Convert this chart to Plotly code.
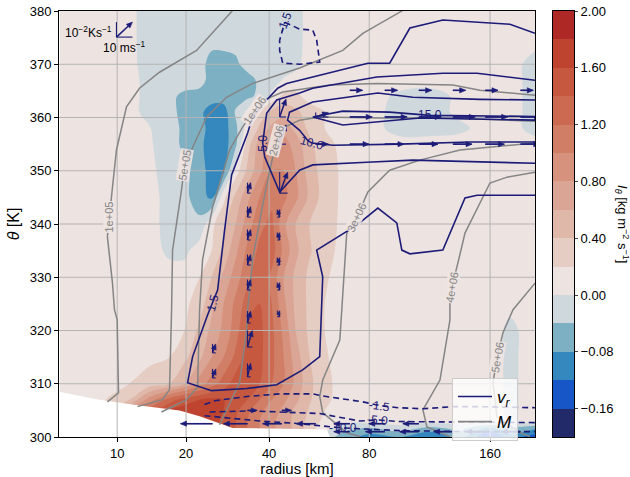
import numpy as np
import plotly.graph_objects as go

# ---------------- data ----------------
# radial grid [km] and potential-temperature grid [K] of the I_theta field
r_grid = [5, 8.2, 11.4, 14.1, 17.1, 19.7, 22.6, 25.1, 27.8, 30.7, 33.8, 37.2, 40.8,
          44.6, 48.7, 53.8, 59.7, 68.3, 80.2, 96.6, 115.2, 136.2, 159.9, 177.3, 201]
theta_grid = [380, 375, 370, 367, 364, 361, 358, 355, 350, 345, 340, 335, 330, 325,
              320, 315, 310, 307, 305, 303, 301.5, 300]
# I_theta [kg m-2 s-1], rows follow theta_grid, columns follow r_grid
I_theta = [
 [0.1,0.1,0.1,-0.035,-0.02,-0.02,-0.02,-0.02,-0.02,-0.02,-0.02,-0.02,-0.02,-0.02,-0.02,0.1,0.1,0.1,0.1,0.1,0.1,0.1,0.1,0.1,0.1],
 [0.1,0.1,0.1,-0.035,-0.02,-0.02,-0.02,-0.02,-0.02,-0.02,-0.02,-0.02,-0.02,-0.02,-0.02,0.1,0.1,0.1,0.1,0.1,0.1,0.1,0.1,0.1,0.1],
 [0.1,0.1,0.1,-0.03,-0.02,-0.02,-0.02,-0.06,-0.06,-0.05,-0.02,-0.02,-0.02,-0.02,-0.01,0.1,0.1,0.1,0.1,0.1,0.1,0.1,0.1,0.1,-0.02],
 [0.1,0.1,0.1,-0.02,-0.02,-0.02,-0.02,-0.06,-0.06,-0.06,-0.06,-0.03,-0.02,0.02,0.08,0.1,0.1,0.1,0.1,0.1,0.1,0.1,0.1,0.1,-0.02],
 [0.1,0.1,0.1,-0.02,-0.03,-0.05,-0.06,-0.06,-0.06,-0.06,-0.05,-0.03,0.05,0.25,0.25,0.12,0.1,0.1,0.1,-0.01,-0.02,0.05,0.1,0.1,-0.02],
 [0.1,0.1,0.1,-0.02,-0.02,-0.06,-0.07,-0.1,-0.1,-0.035,0.05,0.25,0.45,0.55,0.45,0.3,0.2,0.12,0.1,-0.02,-0.02,0.05,0.1,0.1,-0.02],
 [0.1,0.1,0.1,0.01,-0.02,-0.05,-0.06,-0.1,-0.1,-0.05,0.1,0.45,0.65,0.7,0.55,0.35,0.2,0.12,0.1,-0.02,-0.02,-0.01,0.1,0.1,-0.02],
 [0.1,0.1,0.1,0.02,-0.02,-0.05,-0.07,-0.1,-0.1,-0.05,0.3,0.7,0.9,0.9,0.7,0.45,0.25,0.15,0.1,0.1,0.1,0.1,0.1,0.1,0.1],
 [0.1,0.1,0.1,0.05,-0.02,-0.03,-0.06,-0.1,-0.09,0.1,0.45,0.75,1.0,1.0,0.8,0.5,0.3,0.15,0.1,0.1,0.1,0.1,0.1,0.1,0.1],
 [0.1,0.1,0.1,0.1,-0.02,-0.03,-0.06,-0.09,0.15,0.45,0.75,1.0,1.15,1.05,0.85,0.55,0.3,0.15,0.1,0.1,0.1,0.1,0.1,0.1,0.1],
 [0.1,0.1,0.1,0.1,-0.02,-0.03,-0.03,0.15,0.35,0.6,0.9,1.15,1.25,0.85,0.6,0.4,0.28,0.15,0.1,0.1,0.1,0.1,0.1,0.1,0.1],
 [0.1,0.1,0.1,0.1,-0.01,-0.01,0.1,0.2,0.45,0.75,1.05,1.25,1.3,0.95,0.65,0.42,0.26,0.14,0.1,0.1,0.1,0.1,0.1,0.1,0.1],
 [0.1,0.1,0.1,0.1,0.1,0.1,0.2,0.4,0.65,0.9,1.15,1.35,1.15,0.8,0.55,0.35,0.22,0.13,0.1,0.1,0.1,0.1,0.1,0.1,0.1],
 [0.1,0.1,0.1,0.1,0.1,0.15,0.3,0.55,0.8,1.05,1.3,1.4,1.2,0.85,0.55,0.35,0.2,0.12,0.1,0.1,0.1,0.1,0.1,0.05,0.1],
 [0.1,0.1,0.1,0.1,0.12,0.2,0.45,0.65,0.85,1.1,1.45,1.45,1.25,0.95,0.6,0.35,0.2,0.12,0.1,0.1,0.1,0.1,0.1,-0.01,0.1],
 [0.1,0.1,0.12,0.15,0.2,0.35,0.55,0.8,1.0,1.25,1.5,1.45,1.25,1.0,0.7,0.4,0.22,0.12,0.1,0.1,0.1,0.1,0.1,-0.01,0.1],
 [0.1,0.12,0.2,0.3,0.4,0.6,0.9,1.1,1.3,1.5,1.55,1.4,1.2,1.0,0.75,0.45,0.25,0.12,0.1,0.1,0.1,0.1,0.1,-0.01,0.1],
 [0.1,0.15,0.4,0.9,1.3,1.5,1.6,1.65,1.6,1.55,1.4,1.2,1.0,0.85,0.65,0.42,0.24,0.12,0.1,0.1,0.1,0.1,0.1,-0.01,0.1],
 [0.1,0.2,0.8,1.3,1.6,1.7,1.75,1.7,1.6,1.45,1.25,1.05,0.9,0.75,0.55,0.38,0.2,0.1,0.1,0.1,0.1,0.1,0.1,-0.01,0.1],
 [0.1,0.3,1.0,1.5,1.7,1.75,1.75,1.7,1.55,1.4,1.2,1.0,0.85,0.7,0.55,0.32,0.15,0.05,0.1,0.1,0.1,0.1,0.1,-0.01,0.1],
 [0.1,0.3,1.0,1.5,1.7,1.75,1.75,1.7,1.55,1.4,1.2,1.0,0.85,0.7,0.55,0.3,0.05,-0.03,-0.05,-0.02,-0.06,-0.03,-0.1,-0.05,-0.08],
 [0.1,0.3,1.0,1.5,1.7,1.75,1.75,1.7,1.55,1.4,1.2,1.0,0.85,0.7,0.55,0.3,-0.02,-0.06,-0.1,-0.08,-0.12,-0.06,-0.17,-0.1,-0.14],
]
# colour levels of I_theta
levels = [-0.20, -0.16, -0.12, -0.08, -0.04, 0.00, 0.20, 0.40, 0.60, 0.80,
          1.00, 1.20, 1.40, 1.60, 1.80, 2.00]
level_colors = ['#222a6a', '#1656c6', '#3488bd', '#7eb0c3', '#cfd8dd', '#ede3e1',
                '#e6cdc4', '#dfb8aa', '#daa594', '#d6927c', '#d17e66', '#cc6a51',
                '#c6583f', '#be4430', '#ae2826']

# lower boundary (surface) of the data
surface_r = [4.9, 8.17, 12.7, 18.83, 22.6, 29.96, 60.55, 61.8]
surface_theta = [308.5, 307.0, 305.9, 305.0, 303.9, 301.7, 301.4, 300.1]

# absolute angular momentum M contours [m2 s-1]
M_contours = {
    '1e+05': ([29.96, 22.0, 15.54, 12.7, 11.07, 9.92, 9.49, 9.17, 8.96, 9.49, 9.70, 10.0, 10.15, 8.96],
              [380.1, 372.6, 368.5, 365.5, 362.0, 353.9, 346.9, 341.3, 337.6, 328.9, 323.9, 322.0, 308.3, 306.6]),
    '5e+05': ([98.3, 76.8, 67.4, 50.1, 35.2, 28.5, 24.04, 21.23, 19.73, 19.18, 17.63, 17.47, 17.13, 16.0, 12.44],
              [380.1, 375.8, 372.6, 369.3, 366.4, 363.8, 360.1, 354.4, 351.1, 346.4, 335.1, 323.9, 308.9, 307.0, 305.7]),
    '1e+06': ([201, 151.7, 131, 83.9, 61.8, 44.3, 38.66, 35.78, 32.5, 29.23, 25.32, 23.2, 22.6, 22.2, 20.09, 15.85],
              [364.2, 365.1, 366.1, 366.4, 366.1, 364.8, 363.3, 361.4, 358.2, 353.9, 343.2, 333.3, 323.9, 309.4, 307.0, 304.7]),
    '2e+06': ([201, 128.9, 85.5, 57.7, 50.1, 44.3, 42.36, 40.2, 37.78, 35.2, 33.84, 33.57, 31.72, 28.51, 26.87],
              [359.3, 359.9, 359.9, 360.1, 359.5, 358.0, 355.7, 350.1, 342.6, 333.3, 323.9, 320.1, 310.2, 305.1, 302.3]),
    '3e+06': ([201, 151.7, 136.2, 108.6, 90.8, 79.3, 73.9, 69.2, 66.95, 66.1, 58.9, 57.7, 58.9, 69.2, 75.3],
              [355.2, 354.3, 353.9, 352.0, 350.1, 346.0, 341.3, 338.3, 323.9, 318.2, 310.7, 307.6, 304.6, 300.8, 300.1]),
    '4e+06': ([201, 174.7, 159.9, 151.7, 140.0, 134.7, 130.3, 128.9, 128.9, 121.9, 110.6, 113.2, 128.9],
              [349.7, 348.8, 347.7, 343.9, 338.3, 332.7, 328.2, 325.7, 322.0, 310.7, 305.1, 301.9, 300.1]),
    '5e+06': ([201, 180.1, 171.1, 165.9, 162.5, 165.9, 186.6, 196.1],
              [328.9, 323.9, 319.6, 314.9, 310.2, 303.8, 300.8, 300.1]),
}
# index of the contour point that carries the label, and label angle
M_label_at = {'1e+05': (7, -90), '5e+05': (8, -80), '1e+06': (7, -55), '2e+06': (6, -75),
              '3e+06': (6, -65), '4e+06': (6, -80), '5e+06': (3, -80)}

# radial velocity v_r contours [m s-1]: label, radius, theta, label index, label angle
vr_contours = [
    ('1.5', [201, 149.4, 140.0, 123.9, 102.5, 97.7, 94.8, 84.4, 73.9, 56.5, 58.9, 58.5, 57.7, 51.2, 42.36,
             33.57, 25.1, 20.28, 21.23, 24.24, 25.32, 26.43, 28.04, 29.72, 33.84, 35.2, 39.25, 42.67, 45.6,
             54.6, 79.3, 90.8, 102.5, 123.9, 177.3, 201],
     [345.4, 345.4, 344.9, 335.1, 334.4, 335.1, 340.2, 343.0, 339.8, 335.1, 330.1, 325.7, 315.1, 312.6, 309.8,
      309.1, 308.7, 310.2, 315.1, 322.9, 325.2, 327.6, 338.9, 349.2, 357.1, 360.1, 363.3, 365.5, 366.4,
      367.6, 370.2, 370.2, 376.8, 378.3, 377.5, 375.8], 20, -75),
    ('5.0', [201, 104.3, 78.8, 54.97, 50.1, 43.3, 38.66, 38.07, 39.25, 42.36, 50.1, 54.97, 83.9, 123.9, 149.4, 201],
     [351.4, 352.0, 351.6, 351.1, 350.1, 346.0, 352.6, 355.2, 360.8, 363.3, 364.6, 365.5, 367.6, 368.3, 368.3, 367.0], 7, -90),
    ('10.0', [201, 151.7, 104.3, 84.4, 54.97, 46.6, 45.9, 50.1, 53.06, 54.6, 63.1, 96.6, 143.8, 201],
     [363.3, 363.4, 363.8, 364.6, 362.9, 361.0, 359.5, 357.6, 355.7, 355.2, 354.8, 355.0, 355.4, 355.4], 9, 15),
    ('15.0', [54.97, 67.4, 90.8, 115.2, 201, 201, 108.6, 67.4, 54.97],
     [360.1, 361.2, 361.0, 360.4, 360.2, 359.5, 359.9, 358.6, 360.1], 3, 0),
    ('-1.5', [44.95, 50.1, 54.97, 56.5, 57.7, 50.1, 44.3, 43.3, 43.3, 44.95],
     [377.9, 376.6, 376.4, 374.5, 370.4, 370.0, 370.2, 372.6, 374.5, 377.9], 0, -70),
    ('-1.5', [23.6, 25.76, 33.57, 43.3, 54.97, 58.9, 76.8, 85.5, 95.4, 110.6, 131, 151.7, 201],
     [306.1, 306.8, 307.6, 308.1, 308.1, 307.7, 306.6, 305.9, 305.5, 305.3, 305.7, 305.7, 305.5], 7, 8),
    ('-5.0', [24.67, 34.4, 43.3, 57.7, 75.3, 84.4, 96.6, 201],
     [304.7, 304.9, 304.7, 304.4, 303.0, 303.2, 302.9, 302.7], 5, 5),
    ('-10.0', [23.6, 37.2, 50.1, 67.4, 96.6, 143.8, 201],
     [304.0, 303.0, 302.5, 301.7, 301.2, 301.0, 301.0], 3, 0),
]

# flow vectors: radius [km], theta [K], u [m s-1], theta-dot [1e-2 K s-1]
arrow_r = [25.3, 25.3,
           33.8, 33.8, 33.8, 33.8, 33.8, 33.8, 33.8, 33.8,
           43.3, 43.3, 43.3, 43.3, 43.3, 43.3, 43.3, 43.3,
           56.1, 56.1,
           70.6, 88.1, 108, 131, 156, 187,
           70.6, 88.1, 108, 131, 156, 187,
           70.6, 88.1, 108, 131, 156, 187,
           25.3, 33.8, 44.0, 56.1, 70.6, 88.1, 108,
           70.6, 88.1, 108, 131, 156, 187,
           33.8, 44.0]
arrow_theta = [315.8, 311.1,
               345.8, 341.3, 337.0, 332.3, 327.6, 321.4, 316.9, 311.3,
               360.1, 355.0, 345.8, 341.3, 337.0, 332.3, 327.6, 322.6,
               360.1, 355.0,
               365.1, 365.1, 365.1, 365.1, 365.1, 365.1,
               360.1, 360.1, 360.1, 360.1, 360.1, 360.1,
               355.0, 355.0, 355.0, 355.0, 355.0, 355.0,
               302.5, 302.5, 302.5, 302.5, 302.5, 302.5, 302.5,
               301.0, 301.0, 301.0, 301.0, 301.0, 301.0,
               305.0, 305.0]
arrow_u = [2, 2,
           2, 2, 2, 2, 2, 2, 3, 2,
           4, 4, 5, -1.5, -1.5, -1.5, -1.5, -1.5,
           8, 8,
           8, 8, 8, 8, 8, 8,
           14, 14, 14, 14, 14, 14,
           12, 12, 12, 12, 12, 12,
           -20, -15, -12, -12, -10, -10, -10,
           -10, -12, -12, -12, -12, -12,
           6, 6]
arrow_w = [0.6, 0.6,
           0.7, 0.7, 0.7, 0.7, 0.7, 0.8, 1.1, 0.9,
           1.2, 1.3, 1.4, 0.5, 0.5, 0.5, 0.5, 0.4,
           0.3, 0,
           0, 0, 0, 0, 0, 0,
           0, 0, 0, 0, 0, 0,
           0, 0, 0, 0, 0, 0,
           0, 0, 0, 0, 0, 0, 0,
           0, 0, 0, 0, 0, 0,
           0, 0]
key_r, key_theta, key_u, key_w = 9.92, 375.1, 10, 1

x_ticks = [10, 20, 40, 80, 160]
y_ticks = [300, 310, 320, 330, 340, 350, 360, 370, 380]
r_range = [4.93, 201]
theta_range = [300, 380]

# ---------------- styling ----------------
P = 0.27
def T(r):
    return np.asarray(r, dtype=float) ** P

NAVY = '#1c1c78'
GRAY = '#858585'
FONT = 'Liberation Sans, Arial, Helvetica, sans-serif'
W, H = 630, 477
ML, MR, MT, MB = 59, 56, 11, 40
plot_w = W - ML - MR
plot_h = H - MT - MB
main_w = 476
xr = [float(T(r_range[0])), float(T(r_range[1]))]
px_per_x = main_w / (xr[1] - xr[0])
px_per_y = plot_h / (theta_range[1] - theta_range[0])
U_PX = 1.6      # px per m s-1 (10 m s-1 -> 16 px)
W_PX = 15.0     # px per 1e-2 K s-1

fig = go.Figure()

# --- filled contour, mapped so every colour band has equal width on the bar
def to_band(v):
    lo_step = levels[1] - levels[0]
    hi_step = levels[6] - levels[5]
    return v / lo_step if v < 0 else v / hi_step
zu = [[to_band(v) for v in row] for row in I_theta][::-1]
thg = theta_grid[::-1]
nb = len(level_colors)
band_cols = [level_colors[0]] + level_colors + [level_colors[-1]]
nc = len(band_cols) - 1
cs = []
for k, c in enumerate(band_cols):
    cs.append([max(0.0, (k - 0.5) / nc), c])
    cs.append([min(1.0, (k + 0.5) / nc), c])
fig.add_trace(go.Contour(
    x=T(r_grid), y=thg, z=zu, autocontour=False,
    contours=dict(start=-5, end=10, size=1, coloring='fill', showlines=False),
    colorscale=cs, showscale=False, line=dict(width=0), hoverinfo='skip'))

# --- surface mask
fig.add_trace(go.Scatter(x=T(surface_r), y=surface_theta, mode='lines', fill='tozeroy',
                         fillcolor='white', line=dict(width=0, color='white'),
                         showlegend=False, hoverinfo='skip'))

# --- grid lines
gx, gy = [], []
for t in x_ticks:
    gx += [float(T(t))] * 2 + [None]
    gy += theta_range + [None]
for t in y_ticks[1:-1]:
    gx += xr + [None]
    gy += [t, t, None]
fig.add_trace(go.Scatter(x=gx, y=gy, mode='lines', line=dict(color='#b4b4b4', width=1),
                         showlegend=False, hoverinfo='skip'))

annotations = []

# --- M contours
for name, (rr, tt) in M_contours.items():
    fig.add_trace(go.Scatter(x=T(rr), y=tt, mode='lines', line=dict(color=GRAY, width=1.5),
                             showlegend=False, hoverinfo='skip'))
    i, ang = M_label_at[name]
    annotations.append(dict(x=float(T(rr[i])), y=tt[i], text=name, showarrow=False,
                            textangle=ang, font=dict(size=11, color=GRAY, family=FONT),
                            bgcolor='rgba(237,227,225,0.9)', borderpad=0))

# --- v_r contours
for name, rr, tt, i, ang in vr_contours:
    dash = 'solid' if not name.startswith('-') else '6px,4px'
    fig.add_trace(go.Scatter(x=T(rr), y=tt, mode='lines', line=dict(color=NAVY, width=1.6, dash=dash),
                             showlegend=False, hoverinfo='skip'))
    annotations.append(dict(x=float(T(rr[i])), y=tt[i], text=name, showarrow=False,
                            textangle=ang, font=dict(size=12, color=NAVY, family=FONT)))

# --- arrows (shaft + triangular head + component "L"), built in pixel space
def to_px(x, y):
    return (x - xr[0]) * px_per_x, (y - theta_range[0]) * px_per_y
def from_px(px, py):
    return px / px_per_x + xr[0], py / px_per_y + theta_range[0]

shaft_x, shaft_y, head_x, head_y, el_x, el_y = [], [], [], [], [], []
def add_arrow(r, th, u, w, hl=6.0, hw=2.6):
    bx, by = to_px(float(T(r)), th)
    dx, dy = u * U_PX, w * W_PX
    L = (dx * dx + dy * dy) ** 0.5
    for (qx, qy) in [(bx, by + dy), (bx + dx, by)]:
        a = from_px(bx, by); b = from_px(qx, qy)
        el_x.extend([a[0], b[0], None]); el_y.extend([a[1], b[1], None])
    if L < 0.5:
        return
    ex, ey = dx / L, dy / L
    nx, ny = -ey, ex
    h = min(hl, 0.6 * L)
    tx, ty = bx + dx, by + dy
    hbx, hby = tx - ex * h, ty - ey * h
    a = from_px(bx, by); b = from_px(hbx, hby)
    shaft_x.extend([a[0], b[0], None]); shaft_y.extend([a[1], b[1], None])
    hw2 = hw * h / hl
    for (px, py) in [(tx, ty), (hbx + nx * hw2, hby + ny * hw2), (hbx - nx * hw2, hby - ny * hw2), (tx, ty)]:
        q = from_px(px, py)
        head_x.append(q[0]); head_y.append(q[1])
    head_x.append(None); head_y.append(None)

for r, th, u, w in zip(arrow_r, arrow_theta, arrow_u, arrow_w):
    add_arrow(r, th, u, w)
add_arrow(key_r, key_theta, key_u, key_w)

fig.add_trace(go.Scatter(x=el_x, y=el_y, mode='lines', line=dict(color=NAVY, width=1.1),
                         showlegend=False, hoverinfo='skip'))
fig.add_trace(go.Scatter(x=shaft_x, y=shaft_y, mode='lines', line=dict(color=NAVY, width=1.5),
                         showlegend=False, hoverinfo='skip'))
fig.add_trace(go.Scatter(x=head_x, y=head_y, mode='lines', fill='toself', fillcolor=NAVY,
                         line=dict(color=NAVY, width=0.6), showlegend=False, hoverinfo='skip'))

kx = float(T(key_r))
key_dx = from_px(to_px(kx, key_theta)[0] + key_u * U_PX, 0)[0]
annotations.append(dict(x=kx, y=key_theta, text='10<sup>−2</sup>Ks<sup>−1</sup>', showarrow=False,
                        xanchor='right', yanchor='bottom', xshift=-2, yshift=-5,
                        font=dict(size=12, color='black', family=FONT)))
annotations.append(dict(x=(kx + key_dx) / 2, y=key_theta, text='10 ms<sup>−1</sup>', showarrow=False,
                        xanchor='center', yanchor='top', yshift=0,
                        font=dict(size=12, color='black', family=FONT)))

# --- legend entries
fig.add_trace(go.Scatter(x=[None], y=[None], mode='lines', line=dict(color=NAVY, width=1.6),
                         name='<i>v<sub>r</sub></i>'))
fig.add_trace(go.Scatter(x=[None], y=[None], mode='lines', line=dict(color=GRAY, width=1.6),
                         name='<i>M</i>'))

# --- colour bar as its own small axes
cb_scale = []
for k, c in enumerate(level_colors):
    cb_scale.append([k / nb, c])
    cb_scale.append([(k + 1) / nb, c])
fig.add_trace(go.Heatmap(x=[0], y=list(range(nb)), z=[[k] for k in range(nb)], zmin=-0.5, zmax=nb - 0.5,
                         colorscale=cb_scale, showscale=False, xaxis='x2', yaxis='y2', hoverinfo='skip'))
cb_tickvals = [i - 0.5 for i in range(1, len(levels), 2)]
cb_ticktext = ['%.2f' % levels[i] if levels[i] >= 0 else '−%.2f' % abs(levels[i]) for i in range(1, len(levels), 2)]

annotations.append(dict(xref='paper', yref='paper', x=1.0, y=0.5, xshift=48, xanchor='center',
                        yanchor='middle',
                        text='<i>I<sub>θ</sub></i> [kg m<sup>−2</sup> s<sup>−1</sup>]', showarrow=False,
                        textangle=90, font=dict(size=13, color='black', family=FONT)))

axis_common = dict(showline=True, linecolor='black', linewidth=1, mirror=True, ticks='outside',
                   ticklen=4, tickcolor='black', showgrid=False, zeroline=False, automargin=False,
                   tickfont=dict(size=13, color='black', family=FONT))
fig.update_layout(
    width=W, height=H, margin=dict(l=ML, r=MR, t=MT, b=MB, autoexpand=False),
    paper_bgcolor='white', plot_bgcolor='white',
    font=dict(family=FONT, color='black'),
    xaxis=dict(domain=[0, main_w / plot_w], range=xr, tickvals=list(T(x_ticks)),
               ticktext=[str(t) for t in x_ticks],
               title=dict(text='radius [km]', font=dict(size=15), standoff=2), **axis_common),
    yaxis=dict(range=theta_range, tickvals=y_ticks,
               title=dict(text='<i>θ</i> [K]', font=dict(size=16), standoff=6), **axis_common),
    xaxis2=dict(domain=[(main_w + 18) / plot_w, 1.0], range=[-0.5, 0.5], showticklabels=False,
                showline=True, linecolor='black', mirror=True, ticks='', showgrid=False, zeroline=False,
                anchor='y2', automargin=False),
    yaxis2=dict(domain=[0, 1], range=[-0.5, nb - 0.5], side='right', anchor='x2',
                tickvals=cb_tickvals, ticktext=cb_ticktext, showline=True, linecolor='black', mirror=True,
                ticks='outside', ticklen=3, showgrid=False, zeroline=False, automargin=False,
                tickfont=dict(size=13, color='black', family=FONT)),
    legend=dict(x=(452 - ML) / plot_w, y=(H - MB - 378) / plot_h, xanchor='left', yanchor='top',
                bgcolor='rgba(255,255,255,0.8)', bordercolor='#cccccc', borderwidth=1,
                font=dict(size=17, family=FONT), itemwidth=34, tracegroupgap=2),
    annotations=annotations,
)
fig.write_html('out.html', config={'displayModeBar': False},
               post_script="document.body.style.margin='0px';document.body.style.overflow='hidden';")
